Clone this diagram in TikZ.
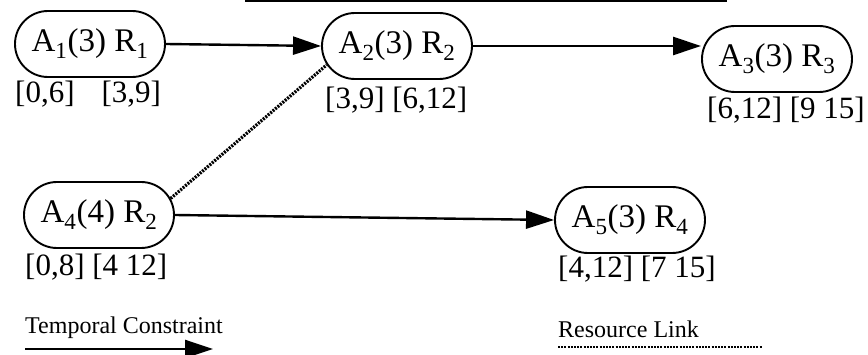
\documentclass[tikz,border=0pt]{standalone}
\usepackage{fontspec}
\setmainfont{Liberation Serif}
\usetikzlibrary{shapes.misc,arrows.meta}
\begin{document}
\begin{tikzpicture}[x=1pt,y=-1pt,
  task/.style={rounded rectangle, draw, line width=1.9pt, minimum width=150pt,
    minimum height=66pt, inner sep=0pt, font=\fontsize{33}{36}\selectfont},
  win/.style={anchor=base west, inner sep=0pt, font=\fontsize{31}{34}\selectfont},
  tc/.style={line width=2.4pt, -{Triangle[length=28pt,width=18pt]}},
  rl/.style={line width=3.2pt, dash pattern=on 2pt off 1.2pt},
  legend/.style={anchor=base west, inner sep=0pt, font=\fontsize{24}{26}\selectfont}]
\useasboundingbox (0,0) rectangle (868,355);
% top rule (scan edge)
\coordinate (R0) at (245,1.2);
\coordinate (R1) at (727,1.2);
\draw[line width=1.8pt] (R0) -- (R1);
% tasks
\node[task] (A1) at (90,44) {A\textsubscript{1}(3) R\textsubscript{1}};
\node[task] (A2) at (397,46) {A\textsubscript{2}(3) R\textsubscript{2}};
\node[task] (A3) at (777,59) {A\textsubscript{3}(3) R\textsubscript{3}};
\node[task] (A4) at (99,215) {A\textsubscript{4}(4) R\textsubscript{2}};
\node[task] (A5) at (630,220) {A\textsubscript{5}(3) R\textsubscript{4}};
% windows
\node[win] (W1) at (15,103) {[0,6]\hspace{27pt}[3,9]};
\node[win] (W2) at (325,109) {[3,9] [6,12]};
\node[win] (W3) at (707,119) {[6,12] [9 15]};
\node[win] (W4) at (25,276) {[0,8] [4 12]};
\node[win] (W5) at (558,278) {[4,12] [7 15]};
% connectors
\draw[tc] (A1.east) -- (A2.west);
\draw[tc] (A2.east) -- (A2.east -| A3.west);
\draw[tc] (A4.east) -- (A5.west);
\draw[rl] (A4.13) -- (A2.195);
% legend
\node[legend] (TC) at (25,334) {Temporal Constraint};
\coordinate (TCs) at (25,349);
\coordinate (TCe) at (213,349);
\draw[tc] (TCs) -- (TCe);
\node[legend] (RL) at (558,338) {Resource Link};
\coordinate (RLs) at (558,347);
\coordinate (RLe) at (762,347);
\draw[rl, line width=2.6pt] (RLs) -- (RLe);
\end{tikzpicture}
\end{document}
